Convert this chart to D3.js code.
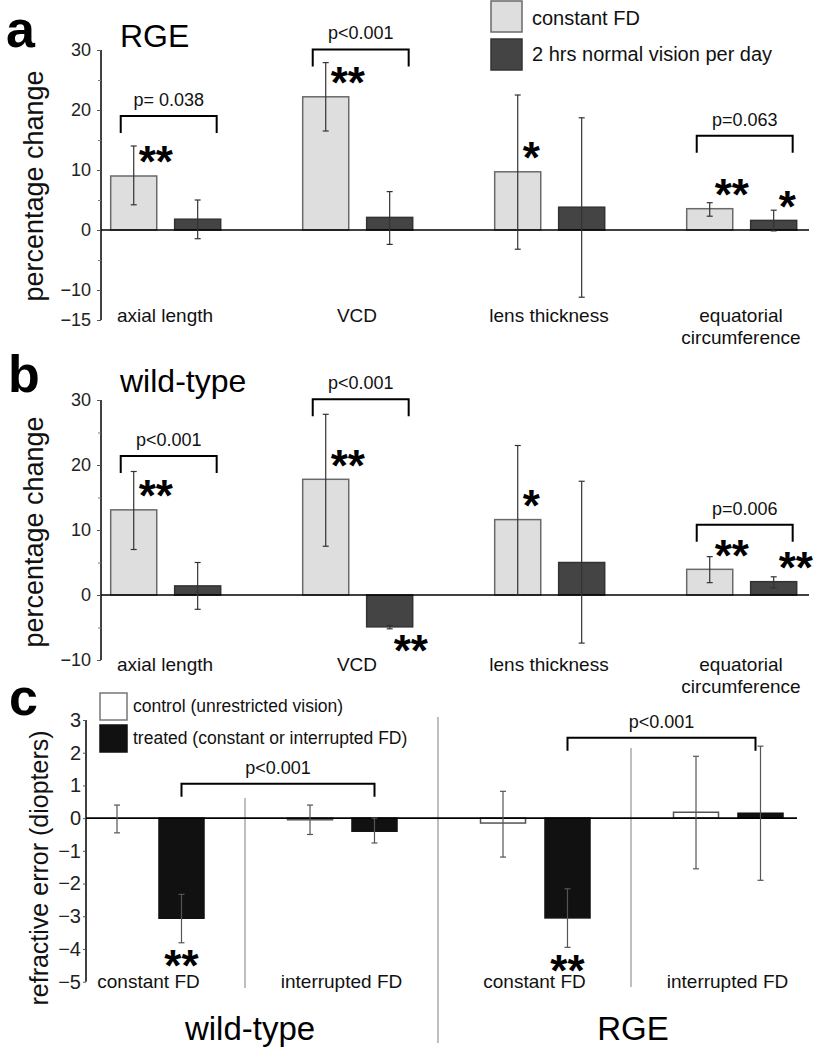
<!DOCTYPE html>
<html>
<head>
<meta charset="utf-8">
<script src="https://cdn.jsdelivr.net/npm/d3@7"></script>
<style>
  html, body { margin: 0; padding: 0; background: #fff; }
  svg { display: block; font-family: "Liberation Sans", Arial, sans-serif; }
</style>
</head>
<body>
<svg id="chart" width="828" height="1050"></svg>
<script>
// ---------------- DATA ----------------
const categoriesAB = ["axial length", "VCD", "lens thickness", "equatorial\ncircumference"];
const seriesAB = ["constant FD", "2 hrs normal vision per day"];

// Panel a (RGE)
const rgeConstant = [9.0, 22.2, 9.7, 3.55];
const rgeConstantErr = [[4.2, 14.0], [16.5, 27.9], [-3.2, 22.5], [2.3, 4.55]];
const rgeConstantSig = ["**", "**", "*", "**"];
const rge2hrs = [1.8, 2.1, 3.8, 1.6];
const rge2hrsErr = [[-1.45, 5.0], [-2.4, 6.4], [-11.2, 18.7], [-0.15, 3.3]];
const rge2hrsSig = ["", "", "", "*"];
const rgePValues = ["p= 0.038", "p<0.001", "", "p=0.063"];
const rgeBracketLevel = [19.0, 30.1, null, 15.7];
const rgeTicks = [-15, -10, 0, 10, 20, 30];
const rgeMinorTicks = [-5, 5, 15, 25];

// Panel b (wild-type)
const wtConstant = [13.1, 17.8, 11.6, 3.95];
const wtConstantErr = [[7.0, 19.0], [7.5, 27.8], [0.0, 23.0], [1.9, 5.9]];
const wtConstantSig = ["**", "**", "*", "**"];
const wt2hrs = [1.4, -4.9, 5.0, 2.05];
const wt2hrsErr = [[-2.2, 5.0], [-5.2, -4.7], [-7.4, 17.5], [1.1, 2.8]];
const wt2hrsSig = ["", "**", "", "**"];
const wtPValues = ["p<0.001", "p<0.001", "", "p=0.006"];
const wtBracketLevel = [21.4, 30.1, null, 10.8];
const wtTicks = [-10, 0, 10, 20, 30];
const wtMinorTicks = [-5, 5, 15, 25];

// Panel c (refractive error)
const genotypes = ["wild-type", "RGE"];
const conditions = ["constant FD", "interrupted FD"];
const seriesC = ["control (unrestricted vision)", "treated (constant or interrupted FD)"];
const controlC = [0.0, -0.05, -0.15, 0.18];
const controlErr = [[-0.45, 0.4], [-0.5, 0.4], [-1.19, 0.82], [-1.55, 1.89]];
const treatedC = [-3.06, -0.4, -3.05, 0.15];
const treatedErr = [[-3.81, -2.33], [-0.76, 0.0], [-3.95, -2.16], [-1.9, 2.2]];
const treatedSig = ["**", "", "**", ""];
const cPValues = ["p<0.001", "p<0.001"];
const cBracketLevel = [1.05, 2.46];
const cTicks = [-5, -4, -3, -2, -1, 0, 1, 2, 3];

// ---------------- DRAW ----------------
const svg = d3.select("#chart");
const FONT = "'Liberation Sans', Arial, sans-serif";
const lightFill = "#dedede", lightStroke = "#6a6a6a";
const darkFill = "#444444", darkStroke = "#333333";
const ink = "#111";

function star(g, txt, x, cy, anchor) {
  const fs = 44;
  g.append("text").attr("x", x).attr("y", cy + 0.55 * fs)
    .attr("text-anchor", anchor).attr("font-size", fs).attr("font-weight", "bold")
    .attr("fill", "#000").text(txt);
}

function errBar(g, cx, y, lo, hi, color) {
  const e = g.append("g").attr("stroke", color || "#333").attr("stroke-width", 1.2);
  e.append("line").attr("x1", cx).attr("x2", cx).attr("y1", y(lo)).attr("y2", y(hi));
  e.append("line").attr("x1", cx - 3).attr("x2", cx + 3).attr("y1", y(lo)).attr("y2", y(lo));
  e.append("line").attr("x1", cx - 3).attr("x2", cx + 3).attr("y1", y(hi)).attr("y2", y(hi));
}

function bracket(g, xL, xR, yTop, leg, label) {
  g.append("path")
    .attr("d", `M${xL},${yTop + leg}V${yTop}H${xR}V${yTop + leg}`)
    .attr("fill", "none").attr("stroke", "#000").attr("stroke-width", 2);
  g.append("text").attr("x", (xL + xR) / 2).attr("y", yTop - 10)
    .attr("text-anchor", "middle").attr("font-size", 18).attr("fill", ink).text(label);
}

const x0 = d3.scaleBand().domain(categoriesAB).range([69, 837]);
const x1 = d3.scaleBand().domain(seriesAB).range([41.7, 151.7]).paddingInner(0.28);

function panelAB(cfg) {
  const g = svg.append("g");
  const y = d3.scaleLinear().domain(cfg.domain).range(cfg.range);
  const axisX = 101;

  const ax = g.append("g").attr("transform", `translate(${axisX},0)`)
    .call(d3.axisLeft(y).tickValues(cfg.ticks).tickSize(4).tickPadding(6).tickFormat(d3.format("d")));
  ax.select(".domain").attr("stroke", "#000").attr("stroke-width", 1.5).attr("d", `M0,${cfg.range[0]}V${cfg.range[1]}`);
  ax.selectAll(".tick line").attr("stroke", "#555");
  ax.selectAll(".tick text").attr("font-size", 18).attr("font-family", FONT).attr("fill", "#222");
  const axm = g.append("g").attr("transform", `translate(${axisX},0)`)
    .call(d3.axisLeft(y).tickValues(cfg.minor).tickSize(3).tickFormat(""));
  axm.select(".domain").remove();
  axm.selectAll(".tick line").attr("stroke", "#777");

  const groups = categoriesAB.map((c, i) => ({
    cat: c, i,
    vals: [
      { s: seriesAB[0], v: cfg.constant[i], err: cfg.constantErr[i], sig: cfg.constantSig[i] },
      { s: seriesAB[1], v: cfg.twoHrs[i], err: cfg.twoHrsErr[i], sig: cfg.twoHrsSig[i] }
    ]
  }));

  groups.forEach(gr => {
    const gx = x0(gr.cat);
    gr.vals.forEach(d => {
      const bx = gx + x1(d.s);
      const light = d.s === seriesAB[0];
      g.append("rect").attr("x", bx).attr("width", x1.bandwidth())
        .attr("y", y(Math.max(0, d.v))).attr("height", Math.abs(y(d.v) - y(0)))
        .attr("fill", light ? lightFill : darkFill)
        .attr("stroke", light ? lightStroke : darkStroke).attr("stroke-width", 1.5);
    });
  });

  g.append("line").attr("x1", axisX).attr("x2", 809).attr("y1", y(0)).attr("y2", y(0))
    .attr("stroke", "#000").attr("stroke-width", 1.6);

  groups.forEach(gr => {
    const gx = x0(gr.cat);
    gr.vals.forEach(d => {
      const cx = gx + x1(d.s) + x1.bandwidth() / 2;
      errBar(g, cx, y, d.err[0], d.err[1], "#333");
      if (d.sig) {
        if (d.v >= 0) star(g, d.sig, cx + 5, y(d.v) - 23, "start");
        else star(g, d.sig, cx + 4, y(d.err[0]) + 13, "start");
      }
    });
    if (cfg.pvals[gr.i]) {
      const cL = gx + x1(seriesAB[0]) + x1.bandwidth() / 2 - 13;
      const cR = gx + x1(seriesAB[1]) + x1.bandwidth() / 2 + 19;
      bracket(g, cL, cR, y(cfg.level[gr.i]), 17, cfg.pvals[gr.i]);
    }
    const lines = gr.cat.split("\n");
    lines.forEach((ln, k) => {
      g.append("text").attr("x", gx + x0.bandwidth() / 2).attr("y", cfg.labelY + k * 22)
        .attr("text-anchor", "middle").attr("font-size", 19).attr("fill", ink).text(ln);
    });
  });

  g.append("text").attr("transform", `translate(43,${cfg.titleY}) rotate(-90)`)
    .attr("text-anchor", "middle").attr("font-size", 27).attr("fill", ink).text("percentage change");
  g.append("text").attr("x", cfg.letterX).attr("y", cfg.letterY).attr("font-size", 52)
    .attr("font-weight", "bold").attr("fill", "#000").text(cfg.letter);
  g.append("text").attr("x", 120).attr("y", cfg.letterY).attr("font-size", 32)
    .attr("fill", "#000").text(cfg.title);
}

panelAB({
  domain: [-15, 30], range: [320, 50], ticks: rgeTicks, minor: rgeMinorTicks,
  constant: rgeConstant, constantErr: rgeConstantErr, constantSig: rgeConstantSig,
  twoHrs: rge2hrs, twoHrsErr: rge2hrsErr, twoHrsSig: rge2hrsSig,
  pvals: rgePValues, level: rgeBracketLevel, labelY: 322, titleY: 186,
  letter: "a", letterX: 6, letterY: 47, title: "RGE"
});
panelAB({
  domain: [-10, 30], range: [660, 400], ticks: wtTicks, minor: wtMinorTicks,
  constant: wtConstant, constantErr: wtConstantErr, constantSig: wtConstantSig,
  twoHrs: wt2hrs, twoHrsErr: wt2hrsErr, twoHrsSig: wt2hrsSig,
  pvals: wtPValues, level: wtBracketLevel, labelY: 671, titleY: 532,
  letter: "b", letterX: 8, letterY: 392, title: "wild-type"
});

// legend a
const legA = svg.append("g");
[lightFill, darkFill].forEach((c, i) => {
  legA.append("rect").attr("x", 491).attr("y", 1 + i * 38).attr("width", 31).attr("height", 31)
    .attr("fill", c).attr("stroke", i ? darkStroke : lightStroke).attr("stroke-width", 1.5);
  legA.append("text").attr("x", 532).attr("y", 25 + i * 36).attr("font-size", 20)
    .attr("fill", ink).text(seriesAB[i]);
});

// ---------------- Panel c ----------------
{
  const g = svg.append("g");
  const y = d3.scaleLinear().domain([-5, 3]).range([981.7, 720]);
  const keys = [0, 1, 2, 3];
  const xc0 = d3.scaleBand().domain(keys).range([52, 824]);
  const xc1 = d3.scaleBand().domain(seriesC).range([42.5, 152]).paddingInner(0.302);
  const axisX = 86;

  const ax = g.append("g").attr("transform", `translate(${axisX},0)`)
    .call(d3.axisLeft(y).tickValues(cTicks).tickSize(3).tickPadding(2).tickFormat(d3.format("d")));
  ax.select(".domain").attr("stroke", "#000").attr("stroke-width", 1.5).attr("d", `M0,${y(-5)}V${y(3)}`);
  ax.selectAll(".tick line").attr("stroke", "#555");
  ax.selectAll(".tick text").attr("font-size", 20).attr("font-family", FONT).attr("fill", "#222");

  const sepStyle = s => s.attr("stroke", "#aaa").attr("stroke-width", 1.5);
  sepStyle(g.append("line").attr("x1", xc0(1)).attr("x2", xc0(1)).attr("y1", 798).attr("y2", 988));
  sepStyle(g.append("line").attr("x1", xc0(2)).attr("x2", xc0(2)).attr("y1", 717).attr("y2", 1043));
  sepStyle(g.append("line").attr("x1", xc0(3)).attr("x2", xc0(3)).attr("y1", 748).attr("y2", 987));

  const rows = keys.map(k => ({
    k,
    vals: [
      { s: seriesC[0], v: controlC[k], err: controlErr[k], sig: "" },
      { s: seriesC[1], v: treatedC[k], err: treatedErr[k], sig: treatedSig[k] }
    ]
  }));
  rows.forEach(r => {
    r.vals.forEach((d, j) => {
      if (d.v === 0) return;
      const bx = xc0(r.k) + xc1(d.s);
      g.append("rect").attr("x", bx).attr("width", xc1.bandwidth())
        .attr("y", y(Math.max(0, d.v))).attr("height", Math.max(1.5, Math.abs(y(d.v) - y(0))))
        .attr("fill", j ? "#111" : "#fff").attr("stroke", j ? "#111" : "#555").attr("stroke-width", 1.5);
    });
  });
  g.append("line").attr("x1", axisX).attr("x2", 797).attr("y1", y(0)).attr("y2", y(0))
    .attr("stroke", "#000").attr("stroke-width", 1.6);
  rows.forEach(r => {
    r.vals.forEach(d => {
      const cx = xc0(r.k) + xc1(d.s) + xc1.bandwidth() / 2;
      errBar(g, cx, y, d.err[0], d.err[1], "#555");
      if (d.sig) star(g, d.sig, cx, y(d.err[0]) + 14, "middle");
    });
    g.append("text").attr("x", xc0(r.k) + xc0.bandwidth() / 2).attr("y", 988)
      .attr("text-anchor", "middle").attr("font-size", 19).attr("fill", ink)
      .text(conditions[r.k % 2]);
  });
  genotypes.forEach((gt, i) => {
    const kA = i * 2, kB = i * 2 + 1;
    const cA = xc0(kA) + xc1(seriesC[1]) + xc1.bandwidth() / 2;
    const cB = xc0(kB) + xc1(seriesC[1]) + xc1.bandwidth() / 2;
    bracket(g, cA, cB - (i ? 5 : 0), y(cBracketLevel[i]), 13, cPValues[i]);
    g.append("text").attr("x", xc0(kB) + (i ? 2 : 5)).attr("y", 1040).attr("text-anchor", "middle")
      .attr("font-size", 33).attr("fill", "#000").text(gt);
  });

  [["#fff", "#777"], ["#111", "#111"]].forEach((c, i) => {
    g.append("rect").attr("x", 100).attr("y", 693 + i * 32).attr("width", 27).attr("height", 27)
      .attr("fill", c[0]).attr("stroke", c[1]).attr("stroke-width", 1.5);
    g.append("text").attr("x", 133).attr("y", 712 + i * 31.5).attr("font-size", 17.5)
      .attr("fill", ink).text(seriesC[i]);
  });

  g.append("text").attr("transform", `translate(48,868) rotate(-90)`)
    .attr("text-anchor", "middle").attr("font-size", 25).attr("fill", ink).text("refractive error (diopters)");
  g.append("text").attr("x", 9).attr("y", 715).attr("font-size", 52)
    .attr("font-weight", "bold").attr("fill", "#000").text("c");
}
</script>
</body>
</html>
